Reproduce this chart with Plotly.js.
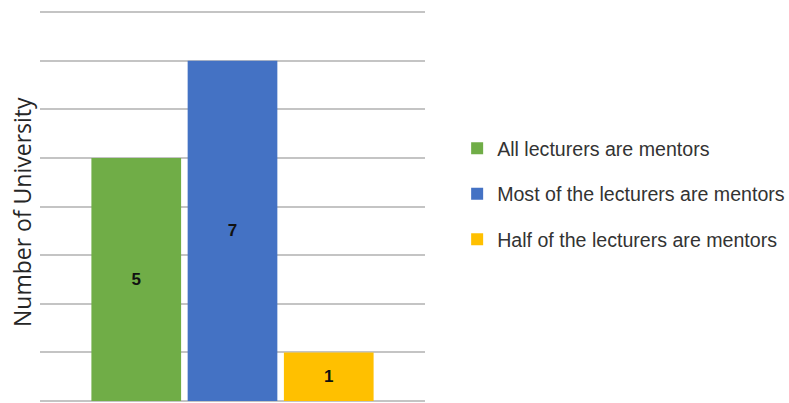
<!DOCTYPE html>
<html>
<head>
<meta charset="utf-8">
<script src="https://cdn.plot.ly/plotly-3.0.1.min.js"></script>
<style>
  html, body { margin: 0; padding: 0; background: #fff; }
  #chart { width: 789px; height: 403px; }
</style>
</head>
<body>
<div id="chart"></div>
<script>
// Mentoring coverage among universities
const categories = ["All lecturers are mentors", "Most of the lecturers are mentors", "Half of the lecturers are mentors"];
const universityCounts = [5, 7, 1];
const barColors = ["#70ad47", "#4472c4", "#ffc000"];
const groupLabel = ["Universities"];
const yTitle = "Number of University";

const traces = categories.map((name, i) => ({
  type: "bar",
  name: name,
  x: groupLabel,
  y: [universityCounts[i]],
  text: [String(universityCounts[i])],
  textposition: "inside",
  insidetextanchor: "middle",
  textangle: 0,
  textfont: { family: "Liberation Sans, Arial, sans-serif", size: 17, color: "#111111", weight: "bold" },
  marker: { color: barColors[i], line: { width: 0 } },
  legendgroup: "g" + i,
  hoverinfo: "skip"
}));

const layout = {
  width: 789,
  height: 403,
  margin: { l: 40, r: 364, t: 0, b: 2, autoexpand: false },
  paper_bgcolor: "#ffffff",
  plot_bgcolor: "#ffffff",
  barmode: "group",
  bargap: 0.25,
  bargroupgap: 0.068,
  showlegend: true,
  legend: {
    xref: "container",
    x: 0.5794,
    xanchor: "left",
    y: 0.516,
    yanchor: "middle",
    traceorder: "grouped",
    tracegroupgap: 17,
    font: { family: "Liberation Sans, Arial, sans-serif", size: 19.6, color: "#333333" },
    bgcolor: "rgba(0,0,0,0)"
  },
  xaxis: {
    showticklabels: false,
    showgrid: false,
    zeroline: false,
    showline: false,
    ticks: ""
  },
  yaxis: {
    range: [0, 8.25],
    dtick: 1,
    showticklabels: false,
    ticks: "",
    showgrid: true,
    gridcolor: "#c4c4c4",
    gridwidth: 2,
    zeroline: true,
    zerolinecolor: "#c4c4c4",
    zerolinewidth: 2,
    showline: false
  },
  annotations: [{
    text: yTitle,
    xref: "paper",
    yref: "paper",
    x: -0.047,
    y: 0.471,
    xanchor: "center",
    yanchor: "middle",
    textangle: -90,
    showarrow: false,
    font: { family: "Open Sans, sans-serif", size: 23, color: "#262626" }
  }]
};

Plotly.newPlot("chart", traces, layout, { displayModeBar: false, staticPlot: true });
</script>
</body>
</html>
